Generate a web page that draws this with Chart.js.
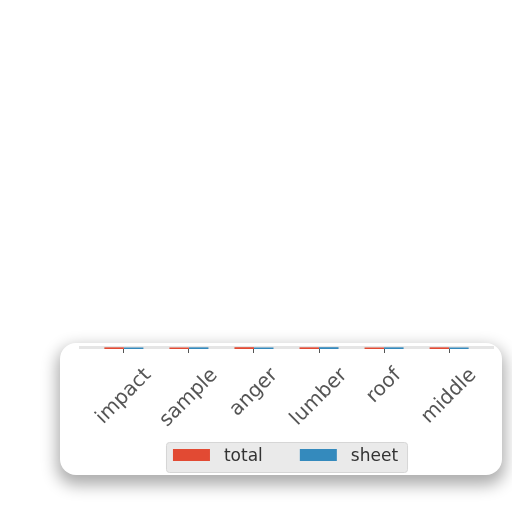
<!DOCTYPE html>
<html><head><meta charset="utf-8">
<script src="https://cdn.jsdelivr.net/npm/chart.js@4/dist/chart.umd.min.js"></script>
<style>
html,body{margin:0;padding:0;background:#fff;width:512px;height:512px;overflow:hidden}
#wrap{position:relative;width:512px;height:512px}
#paper{position:absolute;left:60px;top:343px;width:442px;height:132px;border-radius:16px;background:#fff;box-shadow:0 7px 16px 3px rgba(0,0,0,0.33)}
canvas{position:absolute;left:0;top:0}
</style></head><body>
<div id="wrap"><div id="paper"></div><canvas id="c" width="512" height="512"></canvas></div>
<script>
const categories = ['impact', 'sample', 'anger', 'lumber', 'roof', 'middle'];
const totalValues = [0.55, 0.5, 0.6, 0.55, 0.5, 0.55];
const sheetValues = [0.5, 0.55, 0.5, 0.6, 0.55, 0.5];
const seriesNames = ['total', 'sheet'];
const seriesColors = ['#E24A33', '#348ABD'];
const FONT = '"DejaVu Sans", "Liberation Sans", sans-serif';

const bgPlugin = {
  id: 'bg',
  beforeDatasetsDraw(chart) {
    const {ctx, chartArea: a} = chart;
    ctx.save();
    ctx.fillStyle = '#E5E5E5';
    ctx.fillRect(a.left, a.top, a.right - a.left, a.bottom - a.top);
    ctx.restore();
  }
};

const labelPlugin = {
  id: 'rotLabels',
  afterDraw(chart) {
    const {ctx, chartArea: a} = chart;
    const xs = chart.scales.x;
    const fs = 20;
    ctx.save();
    ctx.font = fs + 'px ' + FONT;
    ctx.fillStyle = '#555555';
    ctx.textAlign = 'center';
    ctx.textBaseline = 'middle';
    const top = a.bottom + 16;
    categories.forEach((c, i) => {
      const px = xs.getPixelForValue(i);
      const w = ctx.measureText(c).width;
      const cy = top + (w + fs) * Math.SQRT1_2 / 2;
      ctx.save();
      ctx.translate(px, cy);
      ctx.rotate(-Math.PI / 4);
      ctx.fillText(c, 0, 0);
      ctx.restore();
    });
    ctx.restore();
  }
};

const legendPlugin = {
  id: 'legendBox',
  afterDraw(chart) {
    const {ctx, chartArea: a} = chart;
    ctx.save();
    ctx.font = '17px ' + FONT;
    const padL = 7, sw = 37, gap = 14, itemGap = 37, padR = 9, h = 30;
    const widths = seriesNames.map(n => ctx.measureText(n).width);
    let width = padL + padR;
    widths.forEach((w, i) => { width += sw + gap + w + (i < widths.length - 1 ? itemGap : 0); });
    const left = (a.left + a.right) / 2 - width / 2;
    const top = a.bottom + 93;
    ctx.beginPath();
    ctx.roundRect(left + 0.5, top + 0.5, width, h, 3);
    ctx.fillStyle = 'rgba(229,229,229,0.8)';
    ctx.fill();
    ctx.strokeStyle = '#d6d6d6';
    ctx.lineWidth = 1;
    ctx.stroke();
    let xx = left + padL;
    seriesNames.forEach((n, i) => {
      ctx.fillStyle = seriesColors[i];
      ctx.fillRect(xx, top + 7, sw, 12);
      ctx.fillStyle = '#333333';
      ctx.textAlign = 'left';
      ctx.textBaseline = 'middle';
      ctx.fillText(n, xx + sw + gap, top + h / 2);
      xx += sw + gap + widths[i] + itemGap;
    });
    ctx.restore();
  }
};

const seriesData = [totalValues, sheetValues];

new Chart(document.getElementById('c'), {
  type: 'bar',
  data: {
    datasets: seriesNames.map((name, s) => ({
      label: name,
      data: categories.map((c, i) => ({x: i, y: seriesData[s][i]})),
      backgroundColor: seriesColors[s],
      borderWidth: 0,
      categoryPercentage: 0.6,
      barPercentage: 1
    }))
  },
  options: {
    responsive: false,
    animation: false,
    devicePixelRatio: 1,
    layout: {padding: {top: 346, left: 79, right: 18, bottom: 159}},
    plugins: {legend: {display: false}, tooltip: {enabled: false}},
    scales: {
      x: {
        type: 'linear',
        offset: false,
        min: -0.69,
        max: 5.69,
        afterBuildTicks: s => { s.ticks = categories.map((c, i) => ({value: i})); },
        ticks: {display: false},
        grid: {display: true, offset: false, drawOnChartArea: false, drawTicks: true, tickLength: 4, tickWidth: 1, tickColor: '#555555', color: '#555555'},
        border: {display: false}
      },
      y: {display: false, min: 0, max: 1}
    }
  },
  plugins: [bgPlugin, labelPlugin, legendPlugin]
});
</script>
</body></html>
